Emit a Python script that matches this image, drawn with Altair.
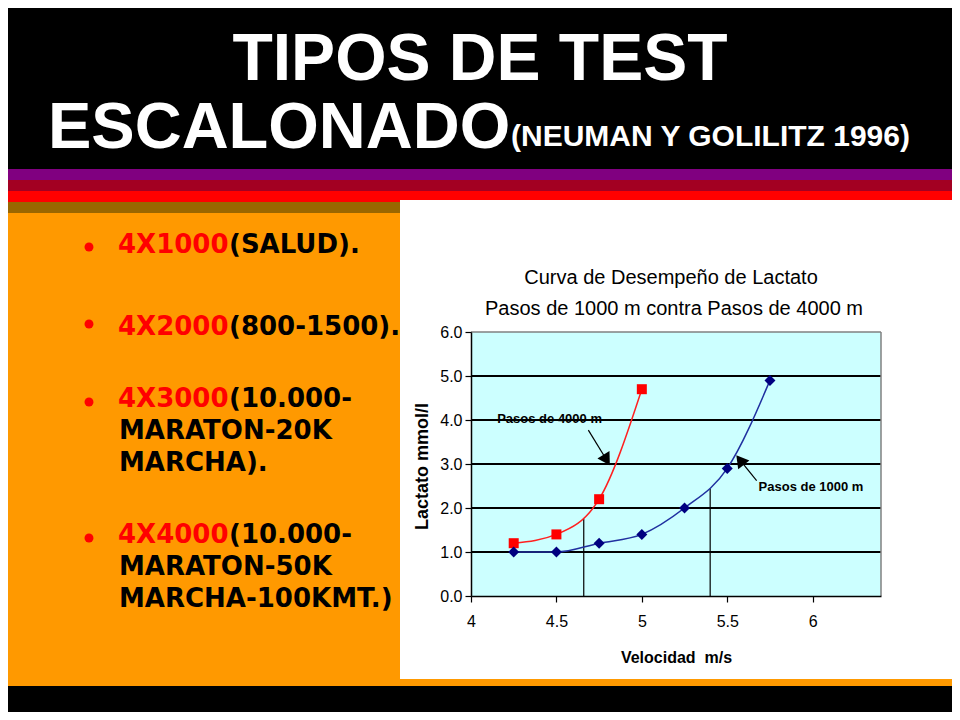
import altair as alt
import pandas as pd

# ---------------- data ----------------
vel_1000 = [4.25, 4.5, 4.75, 5.0, 5.25, 5.5, 5.75]
lac_1000 = [1.0, 1.0, 1.2, 1.4, 2.0, 2.9, 4.9]
vel_4000 = [4.25, 4.5, 4.75, 5.0]
lac_4000 = [1.2, 1.4, 2.2, 4.7]

grid_levels = [1, 2, 3, 4, 5]
x_tick_values = [4, 4.5, 5, 5.5, 6]
y_tick_values = [0, 1, 2, 3, 4, 5, 6]
x_domain = [4, 6.4]
y_domain = [0, 6]

drop_x = [4.66, 5.40]
drop_bottom = [0, 0]
drop_top = [1.76, 2.44]

note_text = ["Pasos de 4000 m", "Pasos de 1000 m"]
note_x = [4.46, 5.99]
note_y = [4.02, 2.48]

arrow_from_x = [4.687, 5.672]
arrow_from_y = [3.77, 2.62]
arrow_to_x = [4.794, 5.575]
arrow_to_y = [3.09, 3.09]

slide_title_1 = "TIPOS DE TEST"
slide_title_2 = "ESCALONADO"
slide_subtitle = "(NEUMAN Y GOLILITZ 1996)"
chart_title = ["Curva de Desempeño de Lactato", "Pasos de 1000 m contra Pasos de 4000 m"]
x_title = "Velocidad\u00a0 m/s"
y_title = "Lactato mmol/l"

bullet_red = ["4X1000", "4X2000", "4X3000", "4X4000"]
bullet_black = ["(SALUD).", "(800-1500).", "(10.000-", "(10.000-"]
bullet_more = [[], [], ["MARATON-20K", "MARCHA)."], ["MARATON-50K", "MARCHA-100KMT.)"]]

# ---------------- layout ----------------
W, H = 410, 264
PAD_L, PAD_T = 463, 324
PAD_R = 944 - PAD_L - W
PAD_B = 704 - PAD_T - H
FONT = "Liberation Sans"
BFONT = "DejaVu Sans"


def X(sx):
    return sx - 8 - PAD_L


def Y(sy):
    return sy - 8 - PAD_T


ONE = alt.Data(values=[{"k": 0}])


def band(x1, y1, x2, y2, color):
    return alt.Chart(ONE).mark_rect(color=color).encode(
        x=alt.value(X(x1)), x2=alt.value(X(x2)),
        y=alt.value(Y(y1)), y2=alt.value(Y(y2)))


def txt(s, sx, sy, size, color, font=FONT, weight="bold", align="left",
        baseline="alphabetic"):
    return alt.Chart(ONE).mark_text(
        text=s, font=font, fontSize=size, fontWeight=weight, color=color,
        align=align, baseline=baseline).encode(x=alt.value(X(sx)), y=alt.value(Y(sy)))


layers = [
    band(0, 169, 960, 180, "#800080"),
    band(0, 180, 960, 191, "#A30022"),
    band(0, 191, 960, 202, "#FF0000"),
    band(0, 202, 960, 213, "#996600"),
    band(0, 213, 960, 686, "#FF9900"),
    band(400, 200, 960, 679, "#FFFFFF"),
    txt(slide_title_1, 480, 80, 66, "white", align="center"),
    txt(slide_title_2, 48, 148, 65, "white"),
    txt(slide_subtitle, 511, 146, 30, "white"),
]

dot_y = [247, 324, 402, 538]
first_base = [253, 335, 407, 543]
for i in range(4):
    layers.append(alt.Chart(ONE).mark_circle(color="#FF0000", size=80, opacity=1).encode(
        x=alt.value(X(89)), y=alt.value(Y(dot_y[i]))))
    layers.append(txt(bullet_red[i], 118, first_base[i], 26, "#FF0000", font=BFONT))
    layers.append(txt(bullet_black[i], 229, first_base[i], 26, "black", font=BFONT))
    for j, s in enumerate(bullet_more[i]):
        layers.append(txt(s, 119, first_base[i] + 32 * (j + 1), 26, "black", font=BFONT))

layers.append(txt(chart_title[0], 671, 284, 20, "black", weight="normal", align="center"))
layers.append(txt(chart_title[1], 674, 315, 20, "black", weight="normal", align="center"))

# ---------------- plot ----------------
xs = alt.Scale(domain=x_domain, nice=False, zero=False)
ys = alt.Scale(domain=y_domain, nice=False, zero=False)

xaxis = alt.Axis(values=x_tick_values, format="~g", title=x_title, grid=False,
                 domainColor="black", domainWidth=1.5, tickColor="black", tickSize=6,
                 tickWidth=1.2, labelFont=FONT, labelFontSize=16, labelColor="black",
                 labelPadding=11, titleFont=FONT, titleFontSize=16, titleFontWeight="bold",
                 titleColor="black", titleY=66, titleBaseline="alphabetic", zindex=1,
                 labelFlush=False)
yaxis = alt.Axis(values=y_tick_values, format=".1f", title=y_title, grid=False,
                 domainColor="black", domainWidth=1.5, tickColor="black", tickSize=6,
                 tickWidth=1.2, labelFont=FONT, labelFontSize=16, labelColor="black",
                 labelPadding=3, titleFont=FONT, titleFontSize=18, titleFontWeight="bold",
                 titleColor="black", titleX=-44, titleY=134, titleAngle=270,
                 titleBaseline="alphabetic", zindex=1)


def ex(field):
    return alt.X(field, type="quantitative", scale=xs, axis=xaxis)


def ey(field):
    return alt.Y(field, type="quantitative", scale=ys, axis=yaxis)


layers.append(alt.Chart(ONE).mark_rect(color="#CCFFFF").encode(
    x=alt.value(0), x2=alt.value(W), y=alt.value(0), y2=alt.value(H)))

grid_df = pd.DataFrame({"level": grid_levels})
layers.append(alt.Chart(grid_df).mark_rule(color="black", strokeWidth=1.8).encode(
    y=ey("level")))
top_df = pd.DataFrame({"level": [y_domain[1]]})
layers.append(alt.Chart(top_df).mark_rule(color="#808080", strokeWidth=1.5).encode(
    y=ey("level")))
right_df = pd.DataFrame({"vel": [x_domain[1]]})
layers.append(alt.Chart(right_df).mark_rule(color="#808080", strokeWidth=1.5).encode(
    x=ex("vel")))

drop_df = pd.DataFrame({"vel": drop_x, "lac": drop_bottom, "top": drop_top})
layers.append(alt.Chart(drop_df).mark_rule(color="black", strokeWidth=1.2).encode(
    x=ex("vel"), y=ey("lac"), y2="top:Q"))

df1000 = pd.DataFrame({"vel": vel_1000, "lac": lac_1000})
df4000 = pd.DataFrame({"vel": vel_4000, "lac": lac_4000})

layers.append(alt.Chart(df4000).mark_line(color="#FF2020", strokeWidth=1.5,
                                          interpolate="monotone").encode(
    x=ex("vel"), y=ey("lac")))
layers.append(alt.Chart(df1000).mark_line(color="#2030A0", strokeWidth=1.5,
                                          interpolate="monotone").encode(
    x=ex("vel"), y=ey("lac")))
layers.append(alt.Chart(df4000).mark_point(shape="square", filled=True, size=100,
                                           color="#FF0000", opacity=1).encode(
    x=ex("vel"), y=ey("lac")))
layers.append(alt.Chart(df1000).mark_point(shape="diamond", filled=True, size=120,
                                           color="#000080", opacity=1).encode(
    x=ex("vel"), y=ey("lac")))

arrow_df = pd.DataFrame({"vel": arrow_from_x, "lac": arrow_from_y,
                         "x2": arrow_to_x, "y2": arrow_to_y})
layers.append(alt.Chart(arrow_df).mark_rule(color="black", strokeWidth=1.2).encode(
    x=ex("vel"), y=ey("lac"), x2="x2:Q", y2="y2:Q"))
head_angles = [148.5, 322.5]
for i in range(2):
    head_df = pd.DataFrame({"vel": [arrow_to_x[i]], "lac": [arrow_to_y[i]]})
    layers.append(alt.Chart(head_df).mark_point(
        shape="triangle-up", filled=True, size=200, color="black", opacity=1,
        angle=head_angles[i]).encode(x=ex("vel"), y=ey("lac")))

note_df = pd.DataFrame({"t": note_text, "vel": note_x, "lac": note_y})
layers.append(alt.Chart(note_df).mark_text(font=FONT, fontSize=13, fontWeight="bold",
                                           color="black", align="center",
                                           baseline="middle").encode(
    x=ex("vel"), y=ey("lac"), text="t:N"))

chart = alt.layer(*layers).properties(
    width=W, height=H, background="black",
    padding={"left": PAD_L, "top": PAD_T, "right": PAD_R, "bottom": PAD_B},
    autosize=alt.AutoSizeParams(type="none"),
).configure_view(stroke=None)

chart.save("out.html", embed_options={"renderer": "svg", "actions": False})
